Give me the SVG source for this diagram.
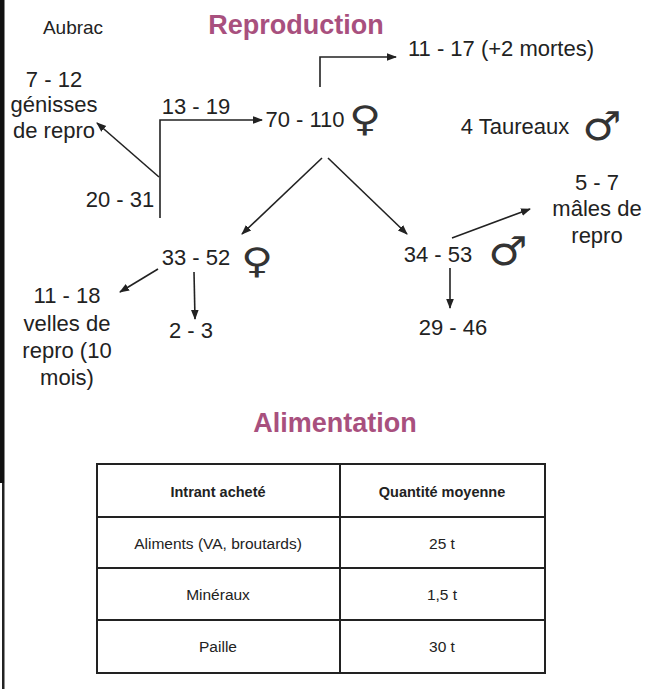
<svg xmlns="http://www.w3.org/2000/svg" width="646" height="689" viewBox="0 0 646 689">
<defs>
<marker id="ah" viewBox="0 0 10 10" refX="9" refY="5" markerWidth="10" markerHeight="10" markerUnits="userSpaceOnUse" orient="auto">
<path d="M0,1.2 L10,5 L0,8.8 z" fill="#222"/>
</marker>
<style>
.t{font-family:"Liberation Sans",Arial,sans-serif;font-size:22px;fill:#222;text-anchor:middle}
.v{font-family:"DejaVu Sans",sans-serif;font-size:35px;fill:#333;text-anchor:middle}
.m{font-family:"DejaVu Sans",sans-serif;font-size:40px;fill:#333;text-anchor:middle}
.h{font-family:"Liberation Sans",Arial,sans-serif;font-size:27px;font-weight:bold;fill:#a8507e;text-anchor:middle}
.c{stroke:#222;stroke-width:1.6;fill:none}
.a{marker-end:url(#ah)}
.tb{font-family:"Liberation Sans",Arial,sans-serif;font-size:15.5px;fill:#222;text-anchor:middle}
.tbb{font-weight:bold;font-size:14.5px}
.g{stroke:#222;stroke-width:2;fill:none}
</style>
</defs>
<rect width="646" height="689" fill="#fff"/>
<rect x="0" y="0" width="4.5" height="483" fill="#111"/>
<rect x="2" y="483" width="2.5" height="206" fill="#222"/>

<g id="title-repro"><text class="h" x="296" y="34">Reproduction</text></g>
<g id="aubrac"><text class="t" x="73" y="34" style="font-size:19px">Aubrac</text></g>

<g id="connectors">
<path class="c a" d="M320,87 V57 H396"/>
<path class="c a" d="M160,218 V120 H262"/>
<path class="c a" d="M159,177 L97,123"/>
<path class="c a" d="M322,158 L242,234"/>
<path class="c a" d="M328,158 L407,234"/>
<path class="c a" d="M452,238 L530,209"/>
<path class="c a" d="M450,268 V308"/>
<path class="c a" d="M194,272 L195,319"/>
<path class="c a" d="M158,269 L120,292"/>
</g>

<g id="n-mortes"><text class="t" x="501" y="56">11 - 17 (+2 mortes)</text></g>
<g id="n-genisses"><text class="t" x="54" y="87">7 - 12</text><text class="t" x="54" y="112">génisses</text><text class="t" x="54" y="138">de repro</text></g>
<g id="l-13-19"><text class="t" x="196" y="114">13 - 19</text></g>
<g id="l-20-31"><text class="t" x="120" y="207">20 - 31</text></g>
<g id="n-70-110"><text class="t" x="305" y="127">70 - 110</text><text class="v" transform="translate(365,131) scale(1.25,1)">♀</text></g>
<g id="n-taureaux"><text class="t" x="515" y="134">4 Taureaux</text><text class="m" transform="translate(602,140) scale(1.1,1)">♂</text></g>
<g id="n-33-52"><text class="t" x="196" y="265">33 - 52</text><text class="v" transform="translate(257,273) scale(1.25,1)">♀</text></g>
<g id="n-34-53"><text class="t" x="438" y="262">34 - 53</text><text class="m" transform="translate(508,265) scale(1.1,1)">♂</text></g>
<g id="n-males"><text class="t" x="597" y="190">5 - 7</text><text class="t" x="597" y="216">mâles de</text><text class="t" x="597" y="243">repro</text></g>
<g id="n-29-46"><text class="t" x="453" y="335">29 - 46</text></g>
<g id="n-2-3"><text class="t" x="191" y="338">2 - 3</text></g>
<g id="n-velles"><text class="t" x="67" y="303">11 - 18</text><text class="t" x="67" y="331">velles de</text><text class="t" x="67" y="358">repro (10</text><text class="t" x="67" y="385">mois)</text></g>

<g id="title-alim"><text class="h" x="335" y="432">Alimentation</text></g>

<g id="table">
<rect class="g" x="97" y="464" width="448" height="209"/>
<line class="g" x1="340" y1="464" x2="340" y2="673"/>
<line class="g" x1="97" y1="517" x2="545" y2="517"/>
<line class="g" x1="97" y1="568" x2="545" y2="568"/>
<line class="g" x1="97" y1="620" x2="545" y2="620"/>
<text class="tb tbb" x="218" y="497">Intrant acheté</text>
<text class="tb tbb" x="442" y="497">Quantité moyenne</text>
<text class="tb" x="218" y="549">Aliments (VA, broutards)</text>
<text class="tb" x="442" y="549">25 t</text>
<text class="tb" x="218" y="600">Minéraux</text>
<text class="tb" x="442" y="600">1,5 t</text>
<text class="tb" x="218" y="652">Paille</text>
<text class="tb" x="442" y="652">30 t</text>
</g>
</svg>
